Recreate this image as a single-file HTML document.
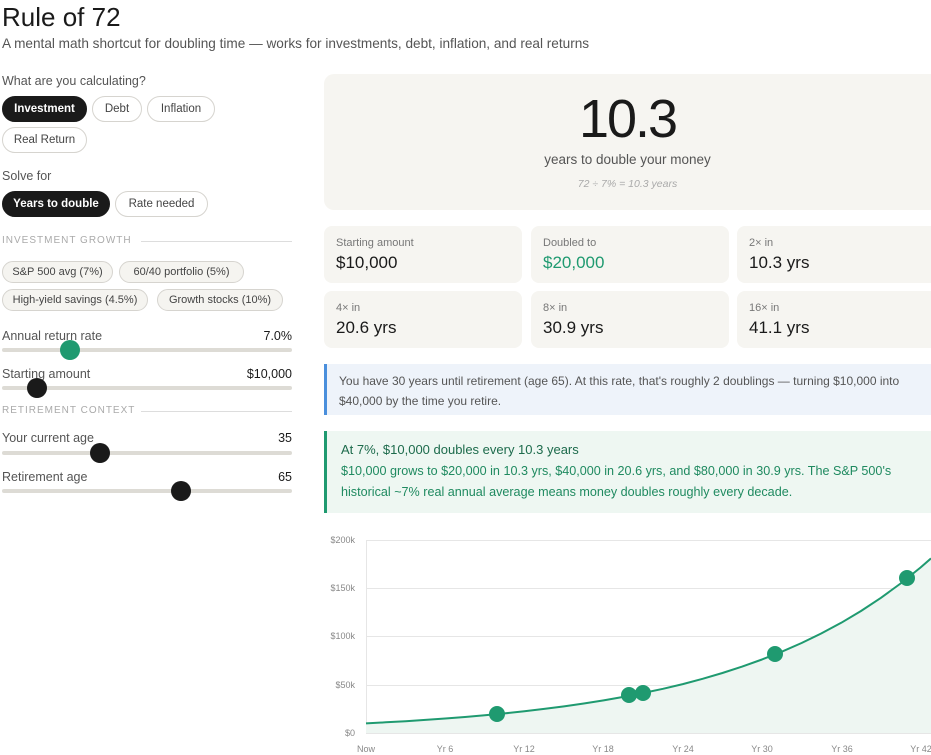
<!DOCTYPE html>
<html><head><meta charset="utf-8"><style>
*{box-sizing:border-box;margin:0;padding:0}
body{width:931px;height:755px;overflow:hidden;background:#fff;font-family:"Liberation Sans",sans-serif;color:#1a1a1a;position:relative}
.a{position:absolute;white-space:nowrap}
.pill{position:absolute;height:26px;border:1px solid #d6d4cf;border-radius:13px;font-size:11.5px;line-height:24px;text-align:center;color:#444;background:#fff}
.pill.on{background:#1a1a1a;color:#fff;border-color:#1a1a1a;font-weight:bold}
.pill.g{background:#f5f4f0;height:22px;line-height:20px;font-size:11px}
.lbl{font-size:12.5px;color:#555}
.sec{font-size:10px;letter-spacing:1px;color:#aaa}
.track{position:absolute;left:2px;width:290px;height:4px;background:#dddbd5;border-radius:2px}
.knob{position:absolute;width:20px;height:20px;border-radius:50%;background:#1a1a1a}
.card{position:absolute;background:#f6f5f1;border-radius:8px;width:198px;height:57px}
.card .k{position:absolute;left:12px;top:11px;font-size:11px;color:#777}
.card .v{position:absolute;left:12px;top:27px;font-size:17px;color:#1a1a1a}
</style></head><body>
<div class="a" style="left:2px;top:2px;font-size:26px">Rule of 72</div>
<div class="a" style="left:2px;top:36px;font-size:13.6px;color:#555">A mental math shortcut for doubling time — works for investments, debt, inflation, and real returns</div>

<div class="a lbl" style="left:2px;top:74px">What are you calculating?</div>
<div class="pill on" style="left:2px;top:96px;width:85px">Investment</div>
<div class="pill" style="left:92px;top:96px;width:50px">Debt</div>
<div class="pill" style="left:147px;top:96px;width:68px">Inflation</div>
<div class="pill" style="left:2px;top:127px;width:85px">Real Return</div>
<div class="a lbl" style="left:2px;top:169px">Solve for</div>
<div class="pill on" style="left:2px;top:191px;width:108px">Years to double</div>
<div class="pill" style="left:115px;top:191px;width:93px">Rate needed</div>
<div class="a sec" style="left:2px;top:235px">INVESTMENT GROWTH</div>
<div class="a" style="left:141px;top:241px;width:151px;height:1px;background:#ddd"></div>
<div class="pill g" style="left:2px;top:261px;width:111px">S&amp;P 500 avg (7%)</div>
<div class="pill g" style="left:119px;top:261px;width:125px">60/40 portfolio (5%)</div>
<div class="pill g" style="left:2px;top:289px;width:146px">High-yield savings (4.5%)</div>
<div class="pill g" style="left:157px;top:289px;width:126px">Growth stocks (10%)</div>

<div class="a lbl" style="left:2px;top:329px">Annual return rate</div>
<div class="a" style="right:639px;top:329px;font-size:12.5px">7.0%</div>
<div class="track" style="top:348px"></div><div class="knob" style="left:60px;top:340px;background:#1f9a70"></div>
<div class="a lbl" style="left:2px;top:367px">Starting amount</div>
<div class="a" style="right:639px;top:367px;font-size:12.5px">$10,000</div>
<div class="track" style="top:386px"></div><div class="knob" style="left:27px;top:378px"></div>
<div class="a sec" style="left:2px;top:405px">RETIREMENT CONTEXT</div>
<div class="a" style="left:141px;top:411px;width:151px;height:1px;background:#ddd"></div>
<div class="a lbl" style="left:2px;top:431px">Your current age</div>
<div class="a" style="right:639px;top:431px;font-size:12.5px">35</div>
<div class="track" style="top:451px"></div><div class="knob" style="left:90px;top:443px"></div>
<div class="a lbl" style="left:2px;top:470px">Retirement age</div>
<div class="a" style="right:639px;top:470px;font-size:12.5px">65</div>
<div class="track" style="top:489px"></div><div class="knob" style="left:171px;top:481px"></div>

<div class="a" style="left:324px;top:74px;width:620px;height:136px;background:#f6f5f1;border-radius:10px"></div>
<div class="a" style="left:324px;top:84px;width:607px;text-align:center;font-size:54px;letter-spacing:-2px;line-height:70px">10.3</div>
<div class="a" style="left:324px;top:152px;width:607px;text-align:center;font-size:13.5px;color:#555">years to double your money</div>
<div class="a" style="left:324px;top:178px;width:607px;text-align:center;font-size:10.5px;color:#aaa;font-style:italic">72 ÷ 7% = 10.3 years</div>

<div class="card" style="left:324px;top:226px"><div class="k">Starting amount</div><div class="v">$10,000</div></div>
<div class="card" style="left:531px;top:226px"><div class="k">Doubled to</div><div class="v" style="color:#1f9a70">$20,000</div></div>
<div class="card" style="left:737px;top:226px;width:210px"><div class="k">2× in</div><div class="v">10.3 yrs</div></div>
<div class="card" style="left:324px;top:291px"><div class="k">4× in</div><div class="v">20.6 yrs</div></div>
<div class="card" style="left:531px;top:291px"><div class="k">8× in</div><div class="v">30.9 yrs</div></div>
<div class="card" style="left:737px;top:291px;width:210px"><div class="k">16× in</div><div class="v">41.1 yrs</div></div>

<div class="a" style="left:324px;top:364px;width:620px;height:51px;background:#eef3fa;border-left:3px solid #4a8fdc"></div>
<div class="a" style="left:339px;top:371px;font-size:12px;color:#555;line-height:20px">You have 30 years until retirement (age 65). At this rate, that's roughly 2 doublings — turning $10,000 into<br>$40,000 by the time you retire.</div>
<div class="a" style="left:324px;top:431px;width:620px;height:82px;background:#eef7f2;border-left:3px solid #1f9a70"></div>
<div class="a" style="left:341px;top:442px;font-size:13px;color:#1d6b4c">At 7%, $10,000 doubles every 10.3 years</div>
<div class="a" style="left:341px;top:461px;font-size:12.6px;color:#1f8a60;line-height:21px">$10,000 grows to $20,000 in 10.3 yrs, $40,000 in 20.6 yrs, and $80,000 in 30.9 yrs. The S&amp;P 500's<br>historical ~7% real annual average means money doubles roughly every decade.</div>

<svg class="a" style="left:0;top:0" width="931" height="755" font-family="Liberation Sans, sans-serif" font-size="9" fill="#888">
<g stroke="#e6e6e6" stroke-width="1">
<line x1="366" y1="540.5" x2="931" y2="540.5"/><line x1="366" y1="588.5" x2="931" y2="588.5"/><line x1="366" y1="636.5" x2="931" y2="636.5"/><line x1="366" y1="685.5" x2="931" y2="685.5"/><line x1="366" y1="733.5" x2="931" y2="733.5"/><line x1="366.5" y1="540" x2="366.5" y2="733"/>
</g>
<g text-anchor="end"><text x="355" y="543">$200k</text><text x="355" y="591">$150k</text><text x="355" y="639">$100k</text><text x="355" y="688">$50k</text><text x="355" y="736">$0</text></g>
<g text-anchor="middle"><text x="366" y="752">Now</text><text x="445" y="752">Yr 6</text><text x="524" y="752">Yr 12</text><text x="603" y="752">Yr 18</text><text x="683" y="752">Yr 24</text><text x="762" y="752">Yr 30</text><text x="842" y="752">Yr 36</text><text x="921" y="752">Yr 42</text></g>
<path d="M366,723.4 L385.8,722.3 L405.6,721.2 L425.4,719.9 L445.2,718.5 L465,717 L484.8,715.3 L504.6,713.4 L524.4,711.3 L544.2,708.9 L564,706.4 L583.8,703.5 L603.6,700.4 L623.4,696.9 L643.2,693 L663,688.8 L682.8,684.1 L702.6,678.8 L722.4,673 L742.2,666.6 L762,659.5 L781.8,651.7 L801.6,643 L821.4,633.4 L841.2,622.8 L861,611 L880.8,597.9 L900.6,583.5 L920.4,567.6 L931,558.4 L931,733 L366,733Z" fill="#eef6f2"/>
<path d="M366,723.4 L385.8,722.3 L405.6,721.2 L425.4,719.9 L445.2,718.5 L465,717 L484.8,715.3 L504.6,713.4 L524.4,711.3 L544.2,708.9 L564,706.4 L583.8,703.5 L603.6,700.4 L623.4,696.9 L643.2,693 L663,688.8 L682.8,684.1 L702.6,678.8 L722.4,673 L742.2,666.6 L762,659.5 L781.8,651.7 L801.6,643 L821.4,633.4 L841.2,622.8 L861,611 L880.8,597.9 L900.6,583.5 L920.4,567.6 L931,558.4" fill="none" stroke="#1f9a70" stroke-width="2" stroke-linejoin="round"/>
<g fill="#1f9a70"><circle cx="497" cy="714" r="8"/><circle cx="629" cy="695" r="8"/><circle cx="643" cy="693" r="8"/><circle cx="775" cy="654" r="8"/><circle cx="907" cy="578" r="8"/></g>
</svg>
</body></html>
